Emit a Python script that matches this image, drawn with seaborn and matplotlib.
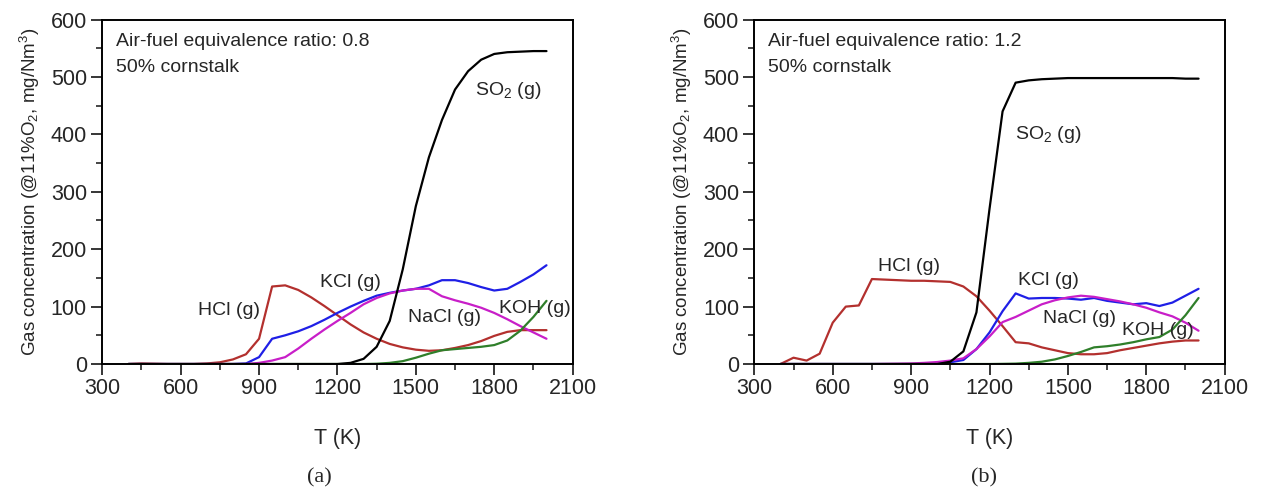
import matplotlib
matplotlib.use("Agg")
import matplotlib.pyplot as plt
from matplotlib.ticker import MultipleLocator
import numpy as np
import pandas as pd
import seaborn as sns

# Temperature grid (K)
temps = list(range(400, 2001, 50))

# Panel (a): air-fuel equivalence ratio 0.8
hcl_a = [0, 1, 0.5, 0, 0, 0, 1, 3, 8, 17, 44, 135, 137, 129, 116, 101, 85, 69,
         55, 44, 35, 29, 25, 23, 24, 28, 33, 40, 49, 56, 59, 59, 59]
kcl_a = [0, 0, 0, 0, 0, 0, 0, 0, 0, 1, 12, 44, 50, 57, 66, 77, 89, 100,
         110, 119, 124, 128, 131, 137, 146, 146, 141, 134, 128, 131, 143, 156, 172]
nacl_a = [0, 0, 0, 0, 0, 0, 0, 0, 0, 0, 2, 6, 12, 27, 44, 60, 75, 89,
          104, 115, 123, 128, 131, 131, 118, 111, 105, 98, 89, 78, 66, 55, 44]
koh_a = [0, 0, 0, 0, 0, 0, 0, 0, 0, 0, 0, 0, 0, 0, 0, 0, 0, 0,
         0, 0.5, 2, 5, 11, 18, 24, 26, 28, 30, 33, 41, 58, 82, 110]
so2_a = [0, 0, 0, 0, 0, 0, 0, 0, 0, 0, 0, 0, 0, 0, 0, 0, 0, 2,
         9, 30, 75, 165, 275, 360, 425, 478, 510, 530, 540, 543, 544, 545, 545]

# Panel (b): air-fuel equivalence ratio 1.2
hcl_b = [0, 11, 6, 18, 72, 100, 102, 148, 147, 146, 145, 145, 144, 143, 135, 118, 93, 66,
         38, 36, 29, 24, 19, 17, 17, 19, 24, 28, 32, 36, 39, 41, 41]
kcl_b = [0, 0, 0, 0, 0, 0, 0, 0, 0, 0, 0, 0, 1, 3, 7, 26, 55, 92,
         123, 114, 115, 115, 114, 112, 115, 110, 107, 104, 106, 101, 107, 119, 131]
nacl_b = [0, 0, 0, 0, 0, 0, 0, 0, 0.3, 0.6, 1, 2, 3.5, 6, 10, 26, 48, 73,
          82, 93, 104, 111, 116, 119, 117, 113, 109, 104, 98, 90, 83, 72, 58]
koh_b = [0, 0, 0, 0, 0, 0, 0, 0, 0, 0, 0, 0, 0, 0, 0, 0, 0, 0.3,
         0.7, 2, 4, 8, 14, 21, 29, 31, 34, 38, 43, 47, 60, 85, 115]
so2_b = [0, 0, 0, 0, 0, 0, 0, 0, 0, 0, 0, 0, 0, 4, 22, 90, 270, 440,
         490, 494, 496, 497, 498, 498, 498, 498, 498, 498, 498, 498, 498, 497, 497]

species = ["HCl", "KCl", "NaCl", "KOH", "SO2"]
colors = {"HCl": "#b3302e", "KCl": "#1f1fe6", "NaCl": "#c81ec8",
          "KOH": "#2f7f2a", "SO2": "#000000"}

x_ticks = [300, 600, 900, 1200, 1500, 1800, 2100]
y_ticks = [0, 100, 200, 300, 400, 500, 600]

sns.set_style("ticks")
plt.rcParams["font.family"] = ["Liberation Sans", "DejaVu Sans"]
plt.rcParams["mathtext.fontset"] = "custom"
plt.rcParams["mathtext.rm"] = "Liberation Sans"
plt.rcParams["mathtext.it"] = "Liberation Sans:italic"
plt.rcParams["mathtext.bf"] = "Liberation Sans:bold"


def long_frame(series):
    rows = []
    for name, vals in zip(species, series):
        for t, v in zip(temps, vals):
            rows.append({"T": t, "C": v, "species": name})
    return pd.DataFrame(rows)


fig = plt.figure(figsize=(12.61, 4.95), dpi=100)
ax_a = fig.add_axes([0.0811, 0.2646, 0.3730, 0.6960])
ax_b = fig.add_axes([0.5982, 0.2646, 0.3730, 0.6960])

panels = [
    (ax_a, [hcl_a, kcl_a, nacl_a, koh_a, so2_a], "0.8",
     {"HCl": (905, 94, "right"), "KCl": (1251, 142, "center"),
      "NaCl": (1611, 81, "center"), "KOH": (1956, 96, "center"),
      "SO2": (1853, 476, "center")}),
    (ax_b, [hcl_b, kcl_b, nacl_b, koh_b, so2_b], "1.2",
     {"HCl": (891, 170, "center"), "KCl": (1424, 145, "center"),
      "NaCl": (1546, 80, "center"), "KOH": (1844, 58, "center"),
      "SO2": (1424, 400, "center")}),
]

label_text = {"HCl": "HCl (g)", "KCl": "KCl (g)", "NaCl": "NaCl (g)",
              "KOH": "KOH (g)", "SO2": "SO$_2$ (g)"}

for ax, series, ratio, label_pos in panels:
    df = long_frame(series)
    sns.lineplot(data=df, x="T", y="C", hue="species", palette=colors,
                 hue_order=species, linewidth=1.6, legend=False, ax=ax)
    ax.set_xlim(300, 2100)
    ax.set_ylim(0, 600)
    ax.set_xticks(x_ticks)
    ax.set_yticks(y_ticks)
    ax.xaxis.set_minor_locator(MultipleLocator(150))
    ax.yaxis.set_minor_locator(MultipleLocator(50))
    ax.tick_params(which="major", direction="out", length=8, width=1.3,
                   labelsize=15.5, pad=2, top=False, right=False)
    ax.tick_params(axis="y", which="major", pad=3)
    ax.tick_params(which="minor", direction="out", length=4, width=1.2,
                   top=False, right=False)
    for sp in ax.spines.values():
        sp.set_visible(True)
        sp.set_linewidth(1.4)
        sp.set_color("black")
    ax.set_xlabel("T (K)", fontsize=15.5)
    ax.set_ylabel("Gas concentration (@11%O$_2$, mg/Nm$^3$)", fontsize=13.5)
    ax.xaxis.set_label_coords(0.5, -0.185)
    ax.yaxis.set_label_coords(-0.128, 0.5)
    ax.text(0.030, 0.937, f"Air-fuel equivalence ratio: {ratio}",
            transform=ax.transAxes, fontsize=14, va="center", ha="left")
    ax.text(0.030, 0.86, "50% cornstalk", transform=ax.transAxes,
            fontsize=14, va="center", ha="left")
    for name, (tx, ty, ha) in label_pos.items():
        ax.text(tx, ty, label_text[name], fontsize=14, ha=ha, va="center")

fig.text(319 / 1261, 1 - 478 / 495, "(a)", ha="center", va="center",
         fontsize=16, family=["Liberation Serif", "DejaVu Serif"])
fig.text(984 / 1261, 1 - 478 / 495, "(b)", ha="center", va="center",
         fontsize=16, family=["Liberation Serif", "DejaVu Serif"])

fig.savefig("out.png", dpi=100)
